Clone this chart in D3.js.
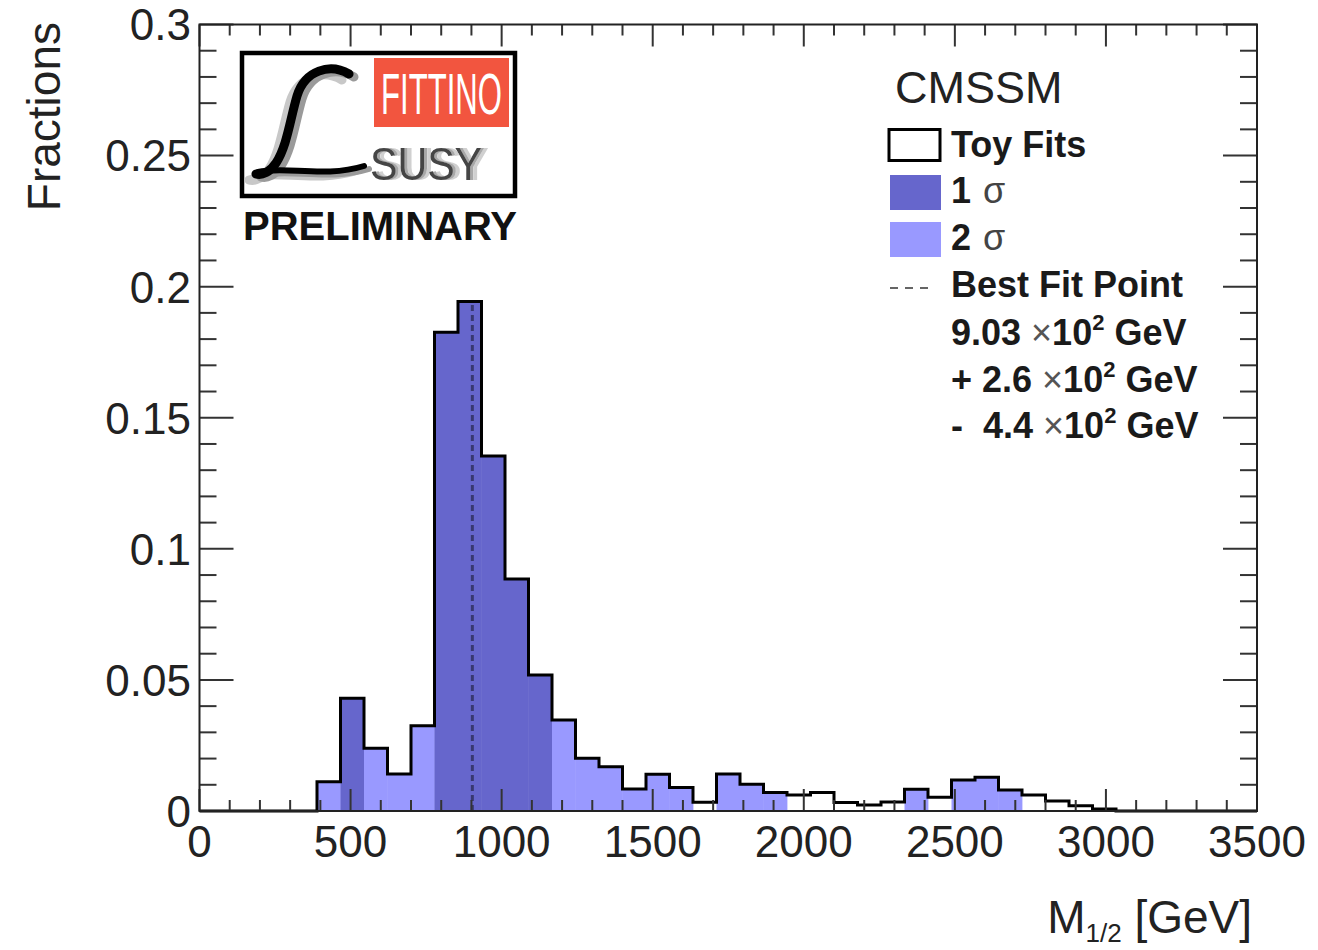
<!DOCTYPE html>
<html>
<head>
<meta charset="utf-8">
<script src="https://cdn.jsdelivr.net/npm/d3@7"></script>
<style>
  html, body { margin: 0; padding: 0; background: #fff; }
  svg { display: block; font-family: "Liberation Sans", Arial, Helvetica, sans-serif; }
</style>
</head>
<body>
<div id="chart"></div>
<script>
// histogram: 45 bins between 0 and 3500 GeV
const xMin = 0, xMax = 3500, nBins = 45;

// fraction of toy fits per bin
const fractions = [
  0, 0, 0, 0, 0, 0.0112, 0.0430, 0.0239, 0.0141, 0.0325,
  0.1826, 0.1943, 0.1354, 0.0885, 0.0519, 0.0347, 0.0201, 0.0169, 0.0084, 0.0140,
  0.0090, 0.0033, 0.0141, 0.0102, 0.0071, 0.0061, 0.0071, 0.0032, 0.0023, 0.0034,
  0.0083, 0.0052, 0.0118, 0.0129, 0.0080, 0.0061, 0.0038, 0.0020, 0.0008, 0,
  0, 0, 0, 0, 0
];

// confidence band of each bin: 1 = 1 sigma, 2 = 2 sigma, 0 = outside
const sigmaBand = [
  0, 0, 0, 0, 0, 2, 1, 2, 2, 2,
  1, 1, 1, 1, 1, 2, 2, 2, 2, 2,
  2, 0, 2, 2, 2, 0, 0, 0, 0, 0,
  2, 0, 2, 2, 2, 0, 0, 0, 0, 0,
  0, 0, 0, 0, 0
];

const bestFit = 903;
const xTicks = [0, 500, 1000, 1500, 2000, 2500, 3000, 3500];
const yTicks = [0, 0.05, 0.1, 0.15, 0.2, 0.25, 0.3];
const legendLabels = ["Toy Fits", "1", "2", "Best Fit Point"];
const resultLines = ["9.03 ", "+ 2.6 ", "-  4.4 "];

const W = 1318, H = 950;
const plot = { left: 199.5, right: 1257, top: 24.5, bottom: 811 };
const col1 = "#6666cc", col2 = "#9999ff";

const svg = d3.select("#chart").append("svg")
  .attr("width", W).attr("height", H);

// shadow filter for the logo lettering
const defs = svg.append("defs");
const sh = defs.append("filter").attr("id", "susyShadow")
  .attr("x", "-10%").attr("y", "-10%").attr("width", "130%").attr("height", "130%");
sh.append("feOffset").attr("in", "SourceAlpha").attr("dx", 7).attr("dy", 0).attr("result", "o1");
sh.append("feFlood").attr("flood-color", "#d0d0d0").attr("result", "c1");
sh.append("feComposite").attr("in", "c1").attr("in2", "o1").attr("operator", "in").attr("result", "s1");
sh.append("feOffset").attr("in", "SourceAlpha").attr("dx", 3).attr("dy", 0).attr("result", "o2");
sh.append("feFlood").attr("flood-color", "#a8a8a8").attr("result", "c2");
sh.append("feComposite").attr("in", "c2").attr("in2", "o2").attr("operator", "in").attr("result", "s2");
const shm = sh.append("feMerge");
shm.append("feMergeNode").attr("in", "s1");
shm.append("feMergeNode").attr("in", "s2");
shm.append("feMergeNode").attr("in", "SourceGraphic");

const x = d3.scaleLinear().domain([xMin, xMax]).range([plot.left, plot.right]);
const y = d3.scaleLinear().domain([0, 0.3]).range([plot.bottom, plot.top]);

const bw = (xMax - xMin) / nBins;
const bins = fractions.map((v, i) => ({ lo: xMin + i * bw, hi: xMin + (i + 1) * bw, v, s: sigmaBand[i] }));

// filled bands
svg.append("g").selectAll("rect")
  .data(bins.filter(b => b.s > 0 && b.v > 0))
  .join("rect")
    .attr("x", d => x(d.lo))
    .attr("y", d => y(d.v))
    .attr("width", d => x(d.hi) - x(d.lo) + 0.4)
    .attr("height", d => y(0) - y(d.v))
    .attr("fill", d => d.s === 1 ? col1 : col2);

// best fit dashed line
const bfBin = bins.find(b => bestFit >= b.lo && bestFit < b.hi);
svg.append("line")
  .attr("x1", x(bestFit)).attr("x2", x(bestFit))
  .attr("y1", y(0)).attr("y2", y(bfBin.v))
  .attr("stroke", "#000").attr("stroke-opacity", 0.45)
  .attr("stroke-width", 3).attr("stroke-dasharray", "6,4");

// histogram outline
const stepPts = bins.map(b => [b.lo, b.v]).concat([[xMax, bins[bins.length - 1].v]]);
svg.append("path")
  .attr("d", d3.line().x(d => x(d[0])).y(d => y(d[1])).curve(d3.curveStepAfter)(stepPts))
  .attr("fill", "none").attr("stroke", "#000").attr("stroke-width", 3);

// ticks (ROOT style, inward, both sides)
const tk = svg.append("g").attr("stroke", "#333").attr("stroke-width", 2);
const xMinor = d3.range(xMin, xMax + 1, 100);
xMinor.forEach(v => {
  const len = v % 500 === 0 ? 22 : 11;
  tk.append("line").attr("x1", x(v)).attr("x2", x(v)).attr("y1", plot.bottom).attr("y2", plot.bottom - len);
  tk.append("line").attr("x1", x(v)).attr("x2", x(v)).attr("y1", plot.top).attr("y2", plot.top + len);
});
const yMinor = d3.range(0, 31).map(i => i / 100);
yMinor.forEach((v, i) => {
  const len = i % 5 === 0 ? 34 : 17;
  tk.append("line").attr("x1", plot.left).attr("x2", plot.left + len).attr("y1", y(v)).attr("y2", y(v));
  tk.append("line").attr("x1", plot.right).attr("x2", plot.right - len).attr("y1", y(v)).attr("y2", y(v));
});

// frame
svg.append("rect")
  .attr("x", plot.left).attr("y", plot.top)
  .attr("width", plot.right - plot.left).attr("height", plot.bottom - plot.top)
  .attr("fill", "none").attr("stroke", "#222").attr("stroke-width", 2);

// tick labels
svg.append("g").selectAll("text").data(xTicks).join("text")
  .attr("x", d => x(d)).attr("y", 857)
  .attr("text-anchor", "middle").attr("font-size", 44).attr("fill", "#222")
  .text(d => d);
svg.append("g").selectAll("text").data(yTicks).join("text")
  .attr("x", 191).attr("y", d => y(d)).attr("dy", "0.36em")
  .attr("text-anchor", "end").attr("font-size", 44).attr("fill", "#222")
  .text(d => d3.format("")(d));

// axis titles
svg.append("text")
  .attr("transform", "translate(60,22) rotate(-90)")
  .attr("text-anchor", "end").attr("font-size", 46).attr("fill", "#222")
  .text("Fractions");
const xt = svg.append("text")
  .attr("x", 1252).attr("y", 933)
  .attr("text-anchor", "end").attr("font-size", 46).attr("fill", "#222");
xt.append("tspan").text("M");
xt.append("tspan").attr("font-size", 26).attr("dy", 9).text("1/2");
xt.append("tspan").attr("dy", -9).text(" [GeV]");

// legend
const lg = svg.append("g");
lg.append("text").attr("x", 895).attr("y", 103).attr("font-size", 45).attr("fill", "#222").text("CMSSM");
lg.append("rect").attr("x", 889).attr("y", 129.5).attr("width", 51).attr("height", 31)
  .attr("fill", "#fff").attr("stroke", "#000").attr("stroke-width", 3);
lg.append("rect").attr("x", 890).attr("y", 175).attr("width", 51).attr("height", 35).attr("fill", col1);
lg.append("rect").attr("x", 890).attr("y", 222).attr("width", 51).attr("height", 35).attr("fill", col2);
lg.append("line").attr("x1", 890).attr("x2", 934).attr("y1", 288).attr("y2", 288)
  .attr("stroke", "#333").attr("stroke-width", 1.6).attr("stroke-dasharray", "8,7");

const legendY = [157, 203, 250, 297];
legendLabels.forEach((t, i) => {
  const tx = lg.append("text").attr("x", 951).attr("y", legendY[i])
    .attr("font-size", 36).attr("font-weight", "bold").attr("fill", "#1a1a1a");
  tx.append("tspan").text(t);
  if (i === 1 || i === 2) {
    tx.append("tspan").attr("font-weight", "normal").attr("fill", "#444").attr("dx", 12).text("σ");
  }
});

const resultY = [345, 392, 438];
resultLines.forEach((r, i) => {
  const tx = lg.append("text").attr("x", 951).attr("y", resultY[i])
    .attr("font-size", 36).attr("font-weight", "bold").attr("fill", "#1a1a1a")
    .attr("xml:space", "preserve");
  tx.append("tspan").text(r);
  tx.append("tspan").attr("font-weight", "normal").attr("fill", "#555").text("×");
  tx.append("tspan").text("10");
  tx.append("tspan").attr("font-size", 22).attr("dy", -15).text("2");
  tx.append("tspan").attr("dy", 15).text(" GeV");
});

// Fittino logo
const logo = svg.append("g");
logo.append("rect").attr("x", 242).attr("y", 53).attr("width", 273).attr("height", 143)
  .attr("fill", "#fff").attr("stroke", "#000").attr("stroke-width", 4.5);
logo.append("rect").attr("x", 374).attr("y", 58).attr("width", 135).attr("height", 69).attr("fill", "#f2553f");
logo.append("text").attr("x", 381).attr("y", 114).attr("font-size", 58)
  .attr("textLength", 121).attr("lengthAdjust", "spacingAndGlyphs")
  .attr("fill", "#fff").text("FITTINO");
logo.append("text").attr("x", 370).attr("y", 180).attr("font-size", 46)
  .attr("textLength", 112).attr("lengthAdjust", "spacingAndGlyphs")
  .attr("fill", "#444").attr("filter", "url(#susyShadow)").text("SUSY");
const stemL = "M349 74 C330 63 305 70 297 96 C290 120 287 146 276 163 C270 172 262 176 256 174";
const footL = "M258 172 C285 166 325 178 364 166";
[["#c8c8c8", -7, 6], ["#9a9a9a", 5, 3], ["#000", 0, 0]].forEach(([c, dx, dy]) => {
  const g = logo.append("g").attr("transform", `translate(${dx},${dy})`)
    .attr("fill", "none").attr("stroke", c).attr("stroke-linecap", "round");
  g.append("path").attr("d", stemL).attr("stroke-width", 9);
  g.append("path").attr("d", footL).attr("stroke-width", 6);
});
logo.append("text").attr("x", 243).attr("y", 240).attr("font-size", 40).attr("font-weight", "bold")
  .attr("textLength", 274).attr("lengthAdjust", "spacingAndGlyphs")
  .attr("fill", "#111").text("PRELIMINARY");
</script>
</body>
</html>
